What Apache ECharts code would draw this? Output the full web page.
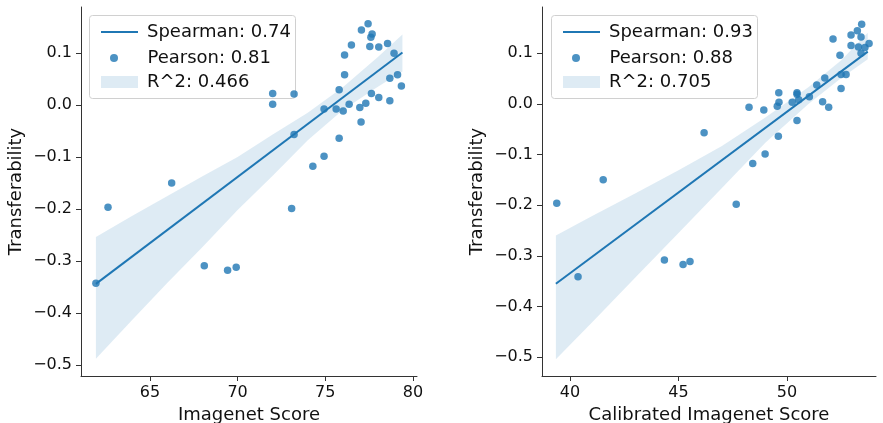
<!DOCTYPE html>
<html>
<head>
<meta charset="utf-8">
<script src="https://cdn.jsdelivr.net/npm/echarts@6/dist/echarts.min.js"></script>
<style>
  html, body { margin: 0; padding: 0; background: #fff; }
  #chart { width: 883px; height: 423px; }
</style>
</head>
<body>
<div id="chart"></div>
<script>
// left panel: Imagenet Score vs Transferability
const leftX = [77.44, 77.06, 77.67, 77.6, 78.55, 76.49, 77.54, 78.05, 78.92, 76.1,
  76.1, 79.12, 78.68, 79.34, 75.79, 77.63, 78.05, 78.68, 72.0, 73.22,
  72.0, 76.36, 77.31, 74.93, 75.62, 76.02, 76.97, 77.04, 73.22, 75.79,
  74.93, 74.29, 66.24, 62.61, 73.08, 61.92, 68.1, 69.43, 69.92]
const leftY = [0.156, 0.144, 0.136, 0.130, 0.118, 0.115, 0.112, 0.111, 0.099, 0.096,
  0.058, 0.058, 0.051, 0.036, 0.029, 0.022, 0.014, 0.008, 0.022, 0.021,
  0.001, 0.001, 0.003, -0.008, -0.008, -0.012, -0.005, -0.033, -0.057, -0.064,
  -0.099, -0.118, -0.150, -0.197, -0.199, -0.343, -0.309, -0.318, -0.312]
const leftFitX = [61.92, 79.4]
const leftFitY = [-0.344, 0.1007]
const leftBandX = [61.92, 64, 66, 68, 70, 72, 74, 76, 78, 79.4]
const leftBandUp = [-0.254, -0.213, -0.175, -0.137, -0.100, -0.057, -0.015, 0.034, 0.092, 0.135]
const leftBandLo = [-0.488, -0.413, -0.342, -0.273, -0.202, -0.136, -0.068, -0.010, 0.035, 0.064]

// right panel: Calibrated Imagenet Score vs Transferability
const rightX = [53.44, 52.95, 53.24, 53.41, 52.12, 52.95, 53.29, 53.78, 53.59, 53.41,
  52.44, 52.49, 52.72, 51.74, 51.37, 52.49, 51.03, 50.46, 50.46, 49.62,
  49.63, 49.55, 50.24, 50.54, 51.64, 51.92, 48.25, 48.93, 50.46, 49.6,
  46.18, 48.99, 48.42, 41.53, 39.39, 47.66, 40.37, 44.35, 45.21, 45.53]
const rightY = [0.157, 0.136, 0.144, 0.132, 0.128, 0.115, 0.112, 0.119, 0.111, 0.100,
  0.096, 0.058, 0.058, 0.051, 0.037, 0.030, 0.014, 0.022, 0.019, 0.022,
  0.003, -0.005, 0.003, 0.008, 0.004, -0.007, -0.007, -0.012, -0.033, -0.064,
  -0.057, -0.099, -0.118, -0.150, -0.196, -0.198, -0.341, -0.308, -0.317, -0.311]
const rightFitX = [39.35, 53.72]
const rightFitY = [-0.355, 0.103]
const rightBandX = [39.35, 41, 43, 45, 47, 49, 51, 52.5, 53.72]
const rightBandUp = [-0.260, -0.222, -0.177, -0.131, -0.083, -0.027, 0.033, 0.086, 0.140]
const rightBandLo = [-0.504, -0.432, -0.343, -0.255, -0.166, -0.077, 0.000, 0.051, 0.088]

const leftTicksX = [65, 70, 75, 80]
const rightTicksX = [40, 45, 50]
const ticksY = [-0.5, -0.4, -0.3, -0.2, -0.1, 0.0, 0.1]

const leftNames = ['Spearman: 0.74', 'Pearson: 0.81', 'R^2: 0.466']
const rightNames = ['Spearman: 0.93', 'Pearson: 0.88', 'R^2: 0.705']

const BLUE = '#1f77b4'
const FONT = 'DejaVu Sans'
const INK = '#111'

const zip = (a, b) => a.map((v, i) => [v, b[i]])

const fmtY = v => (v < 0 ? '\u2212' : '') + Math.abs(v).toFixed(1)

const genX = (idx, min, max, ticks, name) => ({
  type: 'value',
  gridIndex: idx,
  min: min,
  max: max,
  name: name,
  nameLocation: 'middle',
  nameGap: 24,
  nameTextStyle: { fontFamily: FONT, fontSize: 18, color: INK },
  splitLine: { show: false },
  axisLine: { onZero: false, lineStyle: { color: '#333', width: 1 } },
  axisTick: { length: 5, lineStyle: { color: '#333' }, customValues: ticks },
  axisLabel: { fontFamily: FONT, fontSize: 16, color: INK, margin: 9, customValues: ticks }
})

const genY = (idx, min, max) => ({
  type: 'value',
  gridIndex: idx,
  min: min,
  max: max,
  name: 'Transferability',
  nameLocation: 'middle',
  nameGap: 56,
  nameTextStyle: { fontFamily: FONT, fontSize: 18, color: INK },
  splitLine: { show: false },
  axisLine: { show: true, onZero: false, lineStyle: { color: '#333', width: 1 } },
  axisTick: { show: true, length: 5, lineStyle: { color: '#333' }, customValues: ticksY },
  axisLabel: { fontFamily: FONT, fontSize: 16, color: INK, margin: 9, customValues: ticksY, formatter: fmtY }
})

// confidence band as one polygon through the axis scale
const bandSeries = (idx, name, bx, up, lo) => ({
  type: 'custom',
  name: name,
  xAxisIndex: idx,
  yAxisIndex: idx,
  z: 1,
  silent: true,
  data: [0],
  itemStyle: { color: 'rgba(31,119,180,0.15)' },
  renderItem: (params, api) => {
    const pts = []
    bx.forEach((x, i) => pts.push(api.coord([x, up[i]])))
    for (let i = bx.length - 1; i >= 0; i--) pts.push(api.coord([bx[i], lo[i]]))
    return {
      type: 'polygon',
      shape: { points: pts },
      style: { fill: 'rgba(31,119,180,0.15)' }
    }
  }
})

const genLegends = (left, names) => {
  const base = {
    orient: 'vertical',
    left: left + 7,
    itemWidth: 37,
    textStyle: { fontFamily: FONT, fontSize: 18, color: INK, padding: [0, 0, 0, 4] },
    selectedMode: false
  }
  return [
    Object.assign({}, base, { top: 18, itemHeight: 14, data: [{ name: names[0], icon: 'path://M0,6h40v2.4h-40z' }] }),
    Object.assign({}, base, {
      top: 44, left: left + 16, itemHeight: 8,
      textStyle: Object.assign({}, base.textStyle, { padding: [0, 0, 0, 10] }),
      data: [{ name: names[1], icon: 'circle' }]
    }),
    Object.assign({}, base, { top: 68, itemHeight: 12, data: [{ name: names[2], icon: 'rect', itemStyle: { color: 'rgba(31,119,180,0.15)' } }] })
  ]
}

const legendBox = left => ({
  type: 'rect',
  left: left,
  top: 15,
  z: 0,
  shape: { width: 206, height: 83, r: 3 },
  style: { fill: 'rgba(255,255,255,0.8)', stroke: '#d0d0d0', lineWidth: 1 }
})

const genOptions = () => ({
  animation: false,
  grid: [
    { left: 81, right: 466, top: 7, bottom: 47, outerBoundsMode: 'none' },
    { left: 542, right: 7, top: 7, bottom: 47, outerBoundsMode: 'none' }
  ],
  xAxis: [
    genX(0, 61.07, 80.23, leftTicksX, 'Imagenet Score'),
    genX(1, 38.71, 54.1, rightTicksX, 'Calibrated Imagenet Score')
  ],
  yAxis: [
    genY(0, -0.521, 0.188),
    genY(1, -0.537, 0.191)
  ],
  legend: genLegends(89, leftNames).concat(genLegends(551, rightNames)),
  graphic: [legendBox(89), legendBox(551)],
  series: [
    bandSeries(0, leftNames[2], leftBandX, leftBandUp, leftBandLo),
    {
      type: 'scatter', name: leftNames[1], xAxisIndex: 0, yAxisIndex: 0, z: 2,
      symbolSize: 7.5, itemStyle: { color: BLUE, opacity: 0.8 },
      data: zip(leftX, leftY)
    },
    {
      type: 'line', name: leftNames[0], xAxisIndex: 0, yAxisIndex: 0, z: 3,
      symbol: 'none', lineStyle: { color: BLUE, width: 2 }, itemStyle: { color: BLUE },
      data: zip(leftFitX, leftFitY)
    },
    bandSeries(1, rightNames[2], rightBandX, rightBandUp, rightBandLo),
    {
      type: 'scatter', name: rightNames[1], xAxisIndex: 1, yAxisIndex: 1, z: 2,
      symbolSize: 7.5, itemStyle: { color: BLUE, opacity: 0.8 },
      data: zip(rightX, rightY)
    },
    {
      type: 'line', name: rightNames[0], xAxisIndex: 1, yAxisIndex: 1, z: 3,
      symbol: 'none', lineStyle: { color: BLUE, width: 2 }, itemStyle: { color: BLUE },
      data: zip(rightFitX, rightFitY)
    }
  ]
})

const chart = echarts.init(document.getElementById('chart'), null, { renderer: 'canvas' })
chart.setOption(genOptions())
</script>
</body>
</html>
